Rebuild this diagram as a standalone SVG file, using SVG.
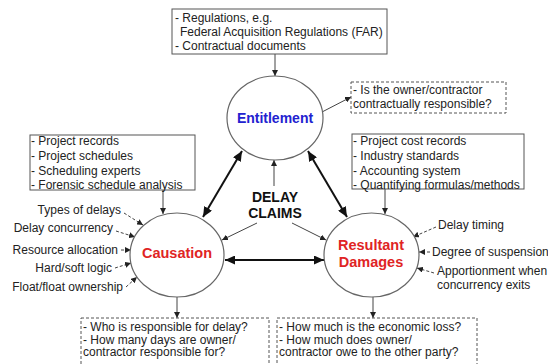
<svg xmlns="http://www.w3.org/2000/svg" width="548" height="364" viewBox="0 0 548 364">
<style>
text{font-family:"Liberation Sans",Arial,sans-serif;font-size:12px;fill:#222}
.box{fill:#fff;stroke:#555;stroke-width:1}
.dbox{fill:#fff;stroke:#555;stroke-width:1;stroke-dasharray:3,2}
.circ{fill:#fff;stroke:#666;stroke-width:1.2}
.thin{stroke:#444;stroke-width:1;fill:none;marker-end:url(#ah)}
.thick{stroke:#111;stroke-width:2;fill:none;marker-start:url(#th);marker-end:url(#th)}
.dash{stroke:#444;stroke-width:1;fill:none;stroke-dasharray:3,2;marker-end:url(#ah)}
.blue{fill:#2222d0;font-weight:bold;font-size:14px}
.red{fill:#e02424;font-weight:bold;font-size:14.5px}
.center{font-weight:bold;font-size:14px;fill:#111}
</style>
<defs>
<marker id="ah" markerUnits="userSpaceOnUse" markerWidth="7" markerHeight="6" refX="6" refY="3" orient="auto">
<path d="M0,0 L6,3 L0,6 Z" fill="#222"/>
</marker>
<marker id="th" markerUnits="userSpaceOnUse" markerWidth="11" markerHeight="9" refX="10" refY="4.5" orient="auto-start-reverse">
<path d="M0,0 L10,4.5 L0,9 Z" fill="#111"/>
</marker>
</defs>
<rect width="548" height="364" fill="#fff"/>
<g id="connectors">
<line class="thin" x1="275" y1="54" x2="275" y2="76"/>
<line class="thin" x1="322" y1="112" x2="351" y2="97"/>
<line class="thin" x1="274" y1="186" x2="274" y2="160"/>
<line class="thin" x1="257" y1="223" x2="222" y2="240"/>
<line class="thin" x1="292" y1="223" x2="326" y2="240"/>
<line class="thin" x1="163" y1="190" x2="163" y2="214"/>
<line class="thin" x1="385" y1="189" x2="385" y2="214"/>
<line class="thin" x1="177" y1="297" x2="177" y2="318"/>
<line class="thin" x1="373" y1="297" x2="373" y2="318"/>
<line class="thick" x1="242" y1="151" x2="203" y2="217"/>
<line class="thick" x1="308" y1="151" x2="347" y2="217"/>
<line class="thick" x1="225" y1="260" x2="324" y2="260"/>
<line class="dash" x1="124" y1="213" x2="143" y2="225"/>
<line class="dash" x1="116" y1="231" x2="135" y2="237"/>
<line class="dash" x1="121" y1="250" x2="131" y2="250"/>
<line class="dash" x1="115" y1="268" x2="131" y2="263"/>
<line class="dash" x1="126" y1="287" x2="137" y2="277"/>
<line class="dash" x1="436" y1="227" x2="413" y2="237"/>
<line class="dash" x1="430" y1="252" x2="419" y2="252"/>
<line class="dash" x1="434" y1="273" x2="417" y2="268"/>
</g>
<g id="sources-entitlement">
<rect class="box" x="172" y="9" width="215" height="45"/>
<text x="175" y="22">- Regulations, e.g.</text>
<text x="180" y="36">Federal Acquisition Regulations (FAR)</text>
<text x="175" y="50">- Contractual documents</text>
</g>
<g id="entitlement">
<ellipse class="circ" cx="275" cy="118" rx="48" ry="42"/>
<text class="blue" x="275" y="123" text-anchor="middle">Entitlement</text>
</g>
<g id="question-entitlement">
<rect class="dbox" x="351" y="82" width="155" height="31"/>
<text x="353" y="94">- Is the owner/contractor</text>
<text x="353" y="108">contractually responsible?</text>
</g>
<g id="sources-causation">
<rect class="box" x="30" y="135" width="165" height="55"/>
<text x="31" y="145">- Project records</text>
<text x="31" y="160">- Project schedules</text>
<text x="31" y="175">- Scheduling experts</text>
<text x="31" y="189">- Forensic schedule analysis</text>
</g>
<g id="sources-damages">
<rect class="box" x="352" y="134" width="172" height="55"/>
<text x="353" y="145">- Project cost records</text>
<text x="353" y="160">- Industry standards</text>
<text x="353" y="175">- Accounting system</text>
<text x="353" y="189">- Quantifying formulas/methods</text>
</g>
<g id="delay-claims">
<text class="center" x="275" y="202" text-anchor="middle">DELAY</text>
<text class="center" x="275" y="218" text-anchor="middle">CLAIMS</text>
</g>
<g id="causation">
<ellipse class="circ" cx="177" cy="255" rx="47" ry="42"/>
<text class="red" x="177" y="258" text-anchor="middle">Causation</text>
</g>
<g id="damages">
<ellipse class="circ" cx="371.5" cy="255" rx="47.5" ry="42"/>
<text class="red" x="371" y="250" text-anchor="middle">Resultant</text>
<text class="red" x="371" y="267" text-anchor="middle">Damages</text>
</g>
<g id="causation-factors">
<text x="121" y="214" text-anchor="end">Types of delays</text>
<text x="113" y="232" text-anchor="end">Delay concurrency</text>
<text x="118" y="254" text-anchor="end">Resource allocation</text>
<text x="112" y="272" text-anchor="end">Hard/soft logic</text>
<text x="123" y="291" text-anchor="end">Float/float ownership</text>
</g>
<g id="damages-factors">
<text x="438" y="229">Delay timing</text>
<text x="432" y="256">Degree of suspension</text>
<text x="437" y="275">Apportionment when</text>
<text x="437" y="289">concurrency exits</text>
</g>
<g id="question-causation">
<rect class="dbox" x="81" y="318" width="188" height="50"/>
<text x="83" y="331">- Who is responsible for delay?</text>
<text x="83" y="343.5">- How many days are owner/</text>
<text x="83" y="356">contractor responsible for?</text>
</g>
<g id="question-damages">
<rect class="dbox" x="277" y="318" width="200" height="50"/>
<text x="279" y="331">- How much is the economic loss?</text>
<text x="279" y="343.5">- How much does owner/</text>
<text x="279" y="356">contractor owe to the other party?</text>
</g>
</svg>
